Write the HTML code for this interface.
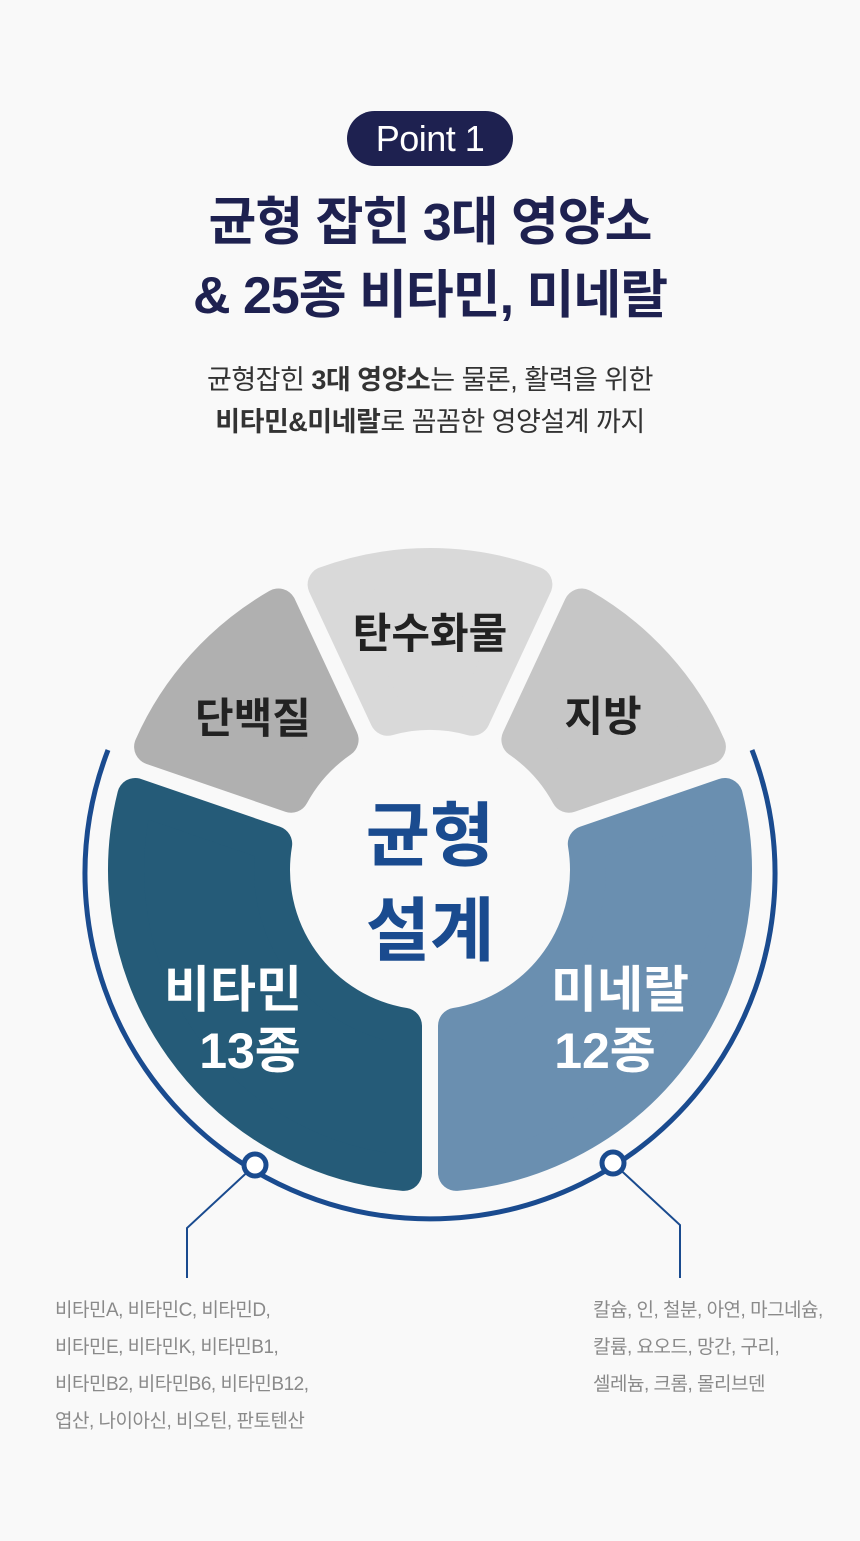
<!DOCTYPE html>
<html><head><meta charset="utf-8">
<style>
html,body{margin:0;padding:0;background:#f9f9f9;}
body{width:860px;height:1541px;position:relative;overflow:hidden;font-family:"Liberation Sans","Noto Sans CJK KR",sans-serif;}
.t{position:absolute;left:0;width:860px;text-align:center;white-space:nowrap;}
.pill{position:absolute;left:347px;top:111px;width:166px;height:55px;border-radius:28px;background:#1e2150;color:#fff;font-size:36px;line-height:55px;text-align:center;letter-spacing:-0.5px;}
.lst{position:absolute;font-size:19px;color:#8a8a8a;line-height:37px;white-space:nowrap;letter-spacing:-0.5px;}
</style></head><body>
<div class="pill">Point 1</div>
<div class="t" style="top:187px;font-size:52px;font-weight:bold;color:#1e2150;line-height:73px;letter-spacing:-1px;">균형 잡힌 3대 영양소<br>&amp; 25종 비타민, 미네랄</div>
<div class="t" style="top:359px;font-size:27px;color:#333;line-height:42px;letter-spacing:-0.5px;">균형잡힌 <b>3대 영양소</b>는 물론, 활력을 위한<br><b>비타민&amp;미네랄</b>로 꼼꼼한 영양설계 까지</div>
<svg id="s" width="860" height="1541" style="position:absolute;left:0;top:0">
<path d="M108 750 A345 345 0 1 0 752 750" fill="none" stroke="#1a4b8f" stroke-width="5"/>
<polyline points="255,1165 187,1228 187,1278" fill="none" stroke="#1a4b8f" stroke-width="2"/>
<polyline points="613,1163 680,1225 680,1278" fill="none" stroke="#1a4b8f" stroke-width="2"/>
<g id="segs"></g>
<circle cx="255" cy="1165" r="11" fill="#fff" stroke="#1a4b8f" stroke-width="5"/>
<circle cx="613" cy="1163" r="11" fill="#fff" stroke="#1a4b8f" stroke-width="5"/>
<g font-family="Liberation Sans, Noto Sans CJK KR, sans-serif" font-weight="bold" text-anchor="middle">
<text x="430" y="648" font-size="42" fill="#222">탄수화물</text>
<text x="253" y="733" font-size="42" fill="#222">단백질</text>
<text x="603" y="731" font-size="42" fill="#222">지방</text>
<text x="430" y="860" font-size="70" fill="#1a4b8f">균형</text>
<text x="430" y="955" font-size="70" fill="#1a4b8f">설계</text>
<text x="233" y="1007" font-size="50" fill="#fff">비타민</text>
<text x="250" y="1068" font-size="50" fill="#fff">13종</text>
<text x="620" y="1007" font-size="50" fill="#fff">미네랄</text>
<text x="605" y="1068" font-size="50" fill="#fff">12종</text>
</g>
</svg>
<div class="lst" style="left:55px;top:1292px;">비타민A, 비타민C, 비타민D,<br>비타민E, 비타민K, 비타민B1,<br>비타민B2, 비타민B6, 비타민B12,<br>엽산, 나이아신, 비오틴, 판토텐산</div>
<div class="lst" style="left:593px;top:1292px;">칼슘, 인, 철분, 아연, 마그네슘,<br>칼륨, 요오드, 망간, 구리,<br>셀레늄, 크롬, 몰리브덴</div>
<script>
(function(){
var cx=430,cy=870,Ro=322,Ri=140,rc=18,gap=16,d=gap/2+rc;
var ro=Ro-rc,ri=Ri+rc;
var segs=[[-25,25,"#d9d9d9"],[-71,-25,"#b0b0b0"],[25,71,"#c6c6c6"],[-180,-71,"#255b78"],[71,180,"#6a8fb0"]];
function P(r,a){a=a*Math.PI/180;return (cx+r*Math.sin(a)).toFixed(1)+" "+(cy-r*Math.cos(a)).toFixed(1);}
var g=document.getElementById("segs"),h="";
segs.forEach(function(s){
 var ao=Math.asin(d/ro)*180/Math.PI, ai=Math.asin(d/ri)*180/Math.PI;
 var o1=s[0]+ao,o2=s[1]-ao,i1=s[0]+ai,i2=s[1]-ai;
 var lo=(o2-o1)>180?1:0, li=(i2-i1)>180?1:0;
 var p="M"+P(ro,o1)+" A"+ro+" "+ro+" 0 "+lo+" 1 "+P(ro,o2)+" L"+P(ri,i2)+" A"+ri+" "+ri+" 0 "+li+" 0 "+P(ri,i1)+" Z";
 h+='<path d="'+p+'" fill="'+s[2]+'" stroke="'+s[2]+'" stroke-width="'+(2*rc)+'" stroke-linejoin="round"/>';
});
g.innerHTML=h;
})();
</script>
</body></html>
